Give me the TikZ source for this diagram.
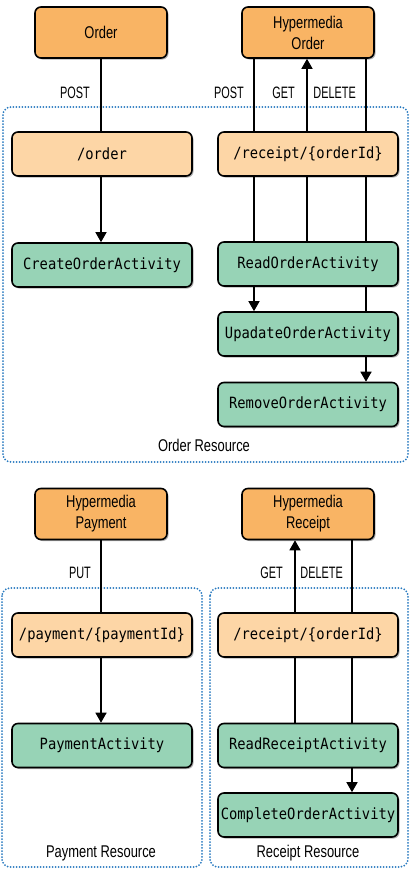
\documentclass[tikz,border=0pt]{standalone}
\usepackage{fontspec}
\setmainfont[FakeStretch=0.76]{Liberation Sans}
\newfontfamily\methodfont[FakeStretch=0.66]{Liberation Sans}
\setmonofont[FakeStretch=0.89]{DejaVu Sans Mono}
\usetikzlibrary{shadows,arrows.meta}
\definecolor{darkor}{HTML}{F9B464}
\definecolor{lightor}{HTML}{FDD6A6}
\definecolor{actgreen}{HTML}{97D3B6}
\definecolor{dotblue}{HTML}{2A7BC0}
\tikzset{
  boxbase/.style={draw=black, line width=1.6pt, rounded corners=6pt,
    drop shadow={shadow xshift=1.5pt, shadow yshift=-1.5pt, opacity=0.3, fill=black},
    inner xsep=0pt, inner ysep=2pt},
  hyper/.style={boxbase, fill=darkor, minimum width=132pt, minimum height=51pt,
    align=center, font=\fontsize{17}{21}\selectfont},
  resbox/.style={boxbase, fill=lightor, minimum width=180pt, minimum height=44pt,
    font=\ttfamily\fontsize{15.5}{17}\selectfont},
  actbox/.style={boxbase, fill=actgreen, minimum width=180pt, minimum height=44pt,
    font=\ttfamily\fontsize{15.5}{17}\selectfont},
  lbl/.style={font=\fontsize{17}{19}\selectfont, inner sep=0pt},
  mlbl/.style={font=\methodfont\fontsize{16.5}{19}\selectfont, inner sep=0pt, anchor=east},
  conn/.style={draw=black, line width=1.5pt},
  arr/.style={conn, -{Triangle[width=11pt,length=10pt]}},
  region/.style={draw=dotblue, line width=2pt, line cap=round,
    dash pattern=on 0pt off 3pt, rounded corners=8pt}
}
\begin{document}
\begin{tikzpicture}[x=1pt,y=-1pt]
\useasboundingbox (0,0) rectangle (412,870);
% regions
\draw[region] (3,107) rectangle (408,462);
\draw[region] (2,588) rectangle (202,867);
\draw[region] (210,588) rectangle (408,867);
\node[lbl] (orl) at (204,445) {Order Resource};
\node[lbl] (prl) at (101,853) {Payment Resource};
\node[lbl] (rrl) at (308,853) {Receipt Resource};

% x positions of lines
\coordinate (xo) at (101,0);
\coordinate (xpost) at (254,0);
\coordinate (xget) at (307,0);
\coordinate (xdel) at (366,0);
\coordinate (xg2) at (295,0);
\coordinate (xd2) at (352,0);

% top nodes
\node[hyper] (order) at (101,32.5) {Order};
\node[hyper] (hmo) at (308,32.5) {Hypermedia\\Order};
\node[resbox] (ordr) at (102,154) {/order};
\node[resbox] (rcpt) at (308,154) {/receipt/\{orderId\}};
\node[actbox] (create) at (102,265) {CreateOrderActivity};
\node[actbox] (read) at (308,264) {ReadOrderActivity};
\node[actbox] (upd) at (308,334) {UpadateOrderActivity};
\node[actbox] (rem) at (308,404.5) {RemoveOrderActivity};

% bottom nodes
\node[hyper] (hmp) at (101,514) {Hypermedia\\Payment};
\node[hyper] (hmr) at (308,514) {Hypermedia\\Receipt};
\node[resbox] (pay) at (102,635) {/payment/\{paymentId\}};
\node[resbox] (rcpt2) at (308,635) {/receipt/\{orderId\}};
\node[actbox] (payact) at (102,745.5) {PaymentActivity};
\node[actbox] (readrec) at (308,745.5) {ReadReceiptActivity};
\node[actbox] (compl) at (308,815) {CompleteOrderActivity};

% top connectors
\draw[conn] (order.south -| xo) -- (ordr.north -| xo);
\draw[arr] (ordr.south -| xo) -- (create.north -| xo);
\draw[conn] (hmo.south -| xpost) -- (rcpt.north -| xpost);
\draw[conn] (rcpt.south -| xpost) -- (read.north -| xpost);
\draw[arr] (read.south -| xpost) -- (upd.north -| xpost);
\draw[conn] (read.north -| xget) -- (rcpt.south -| xget);
\draw[arr] (rcpt.north -| xget) -- (hmo.south -| xget);
\draw[conn] (hmo.south -| xdel) -- (rcpt.north -| xdel);
\draw[conn] (rcpt.south -| xdel) -- (read.north -| xdel);
\draw[conn] (read.south -| xdel) -- (upd.north -| xdel);
\draw[arr] (upd.south -| xdel) -- (rem.north -| xdel);

% bottom connectors
\draw[conn] (hmp.south -| xo) -- (pay.north -| xo);
\draw[arr] (pay.south -| xo) -- (payact.north -| xo);
\draw[conn] (readrec.north -| xg2) -- (rcpt2.south -| xg2);
\draw[arr] (rcpt2.north -| xg2) -- (hmr.south -| xg2);
\draw[conn] (hmr.south -| xd2) -- (rcpt2.north -| xd2);
\draw[conn] (rcpt2.south -| xd2) -- (readrec.north -| xd2);
\draw[arr] (readrec.south -| xd2) -- (compl.north -| xd2);

% method labels
\node[mlbl] (l1) at (90,93) {POST};
\node[mlbl] (l2) at (244,93) {POST};
\node[mlbl] (l3) at (295,93) {GET};
\node[mlbl] (l4) at (356,93) {DELETE};
\node[mlbl] (l5) at (91,573) {PUT};
\node[mlbl] (l6) at (283,573) {GET};
\node[mlbl] (l7) at (343,573) {DELETE};
\end{tikzpicture}
\end{document}
